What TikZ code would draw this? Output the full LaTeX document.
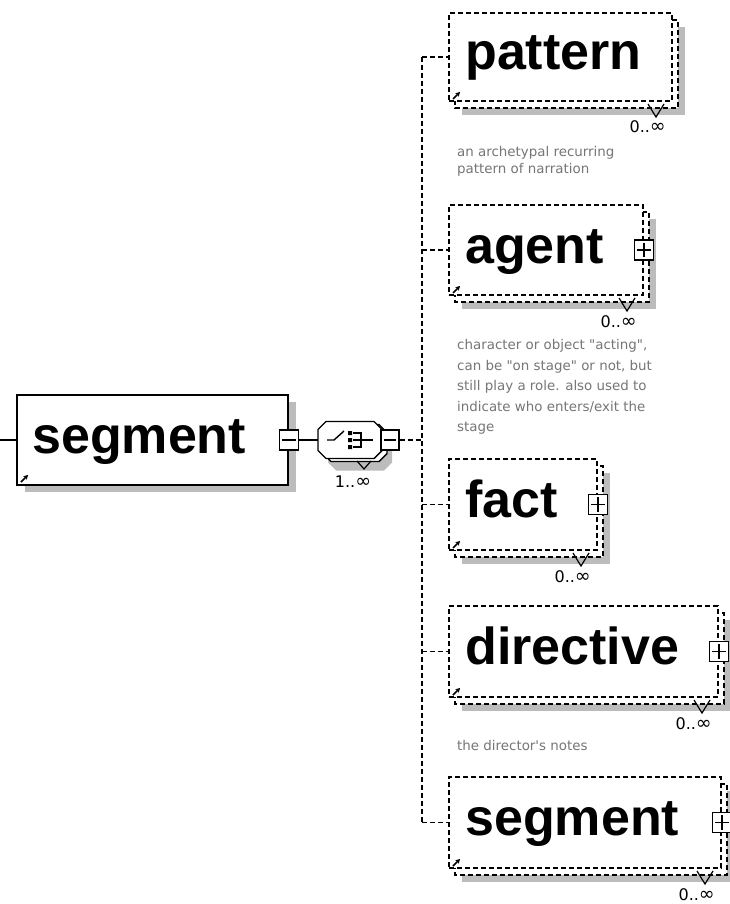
\documentclass[tikz,border=0pt]{standalone}
\usepackage{fontspec}
\setmainfont{DejaVu Sans}
\newfontfamily\headfont{Liberation Sans}
\usetikzlibrary{calc,fit,arrows.meta}

\definecolor{castgray}{RGB}{188,188,188}
\definecolor{notegray}{RGB}{118,118,118}

\tikzset{
  dbox/.style={draw, dash pattern=on 5pt off 3pt, line width=1.8pt, fill=white},
  sbox/.style={draw, line width=1.9pt, fill=white},
  castshadow/.style={fill=castgray},
  biglabel/.style={font=\headfont\bfseries\fontsize{52}{52}\selectfont, inner sep=0pt, anchor=base west},
  note/.style={font=\fontsize{13.4}{13.4}\selectfont, text=notegray, inner sep=0pt, anchor=base west},
  mult/.style={font=\fontsize{16}{16}\selectfont, inner sep=0pt, anchor=base east},
  togglebox/.style={draw, fill=white, line width=1.4pt, minimum width=19pt, minimum height=20pt, inner sep=0pt},
  conn/.style={line width=1.4pt},
  dconn/.style={line width=1.6pt, dash pattern=on 5pt off 3pt},
  refarrow/.style={line width=1.7pt, -{Stealth[length=4.5pt,width=5pt]}},
  iconline/.style={line width=1.4pt},
}

% occurrence range printed under a frame
\newcommand\occ[1]{#1..{\fontsize{19}{16}\selectfont ∞}}

% optional, repeatable child element: shadow, stacked back frame, front frame,
% name, occurrence notch, occurrence range and reference arrow
\newcommand\xsdelement[6]{%
  \fill[castshadow] (#2+13,#3+14) rectangle (#4+13,#5+14);
  \draw[dbox] (#2+6,#3+7) rectangle (#4+6,#5+7);
  \draw[line width=1.2pt] (#4+6-30,#5+3) -- (#4+6-22,#5+16) -- (#4+6-14,#5+3);
  \node[dbox, fit={(#2,#3) (#4,#5)}, inner sep=0pt] (#1) {};
  \node[biglabel] (#1-label) at ($(#1.west)+(17,13)$) {#6};
  \node[mult] (#1-mult) at (#4+6-12,#5+7+25) {\occ{0}};
  \draw[refarrow] (#2+4,#5-2) -- (#2+11,#5-9);
}

% expand box on the right edge of an element
\newcommand\expandbox[1]{%
  \node[togglebox] (#1-plus) at (#1.east) {};
  \draw[line width=1.2pt] ([xshift=3.5pt]#1-plus.west) -- ([xshift=-3.5pt]#1-plus.east)
                        ([yshift=-3.5pt]#1-plus.north) -- ([yshift=3.5pt]#1-plus.south);
}

% outline of the sequence compositor
\def\seqoutline{(326,421.5) -- (374,421.5) -- (382,429.5) -- (382,450.5) -- (374,458.5)
  -- (326,458.5) -- (318,450.5) -- (318,429.5) -- cycle}

\begin{document}
\begin{tikzpicture}[x=1pt,y=-1pt]
\useasboundingbox (0,0) rectangle (729,904);
\fill[white] (0,0) rectangle (729,904);

% ---------- root element ----------
\fill[castshadow] (25,402) rectangle (296,492);
\node[sbox, fit={(17,395) (288,485)}, inner sep=0pt] (root) {};
\node[biglabel] (root-label) at ($(root.west)+(16,13)$) {segment};
\draw[refarrow] (21,482) -- (28,475);
\coordinate (entry) at (0,440);
\draw[conn] (entry) -- (root.west);
\node[togglebox] (root-minus) at (root.east) {};
\draw[line width=1.2pt] ([xshift=3.5pt]root-minus.west) -- ([xshift=-3.5pt]root-minus.east);

% ---------- sequence compositor ----------
\node[minimum width=64pt, minimum height=37pt, inner sep=0pt] (seq) at (350,440) {};
\fill[castshadow, shift={(10,12)}] \seqoutline;
\draw[line width=1.4pt, fill=white, shift={(5,3)}] \seqoutline;
\draw[line width=1.2pt] (357,461) -- (364,469) -- (371,461);
\draw[line width=1.4pt, fill=white] \seqoutline;
\draw[iconline] (327,440) -- (334,440) -- (344,431);
\fill (348,431) rectangle (352,435)
      (348,438) rectangle (352,442)
      (348,445) rectangle (352,449);
\draw[iconline] (353,433) -- (361,433) -- (361,447) -- (353,447)
                (353,440) -- (373,440);
\node[mult, anchor=base] (seq-mult) at (353,487) {\occ{1}};
\draw[conn] (root-minus.east) -- (seq.west);
\node[togglebox, minimum width=18pt] (seq-minus) at (390,440) {};
\draw[line width=1.2pt] ([xshift=3.5pt]seq-minus.west) -- ([xshift=-3.5pt]seq-minus.east);

% ---------- children ----------
\xsdelement{pattern}{449}{13}{672}{101}{pattern}
\xsdelement{agent}{449}{205}{643}{295}{agent}
\expandbox{agent}
\xsdelement{fact}{449}{459}{597}{550}{fact}
\expandbox{fact}
\xsdelement{directive}{449}{606}{718}{697}{directive}
\expandbox{directive}
\xsdelement{segtwo}{449}{777}{721}{868}{segment}
\expandbox{segtwo}

% ---------- connectors ----------
\coordinate (bus) at (422,440);
\draw[dconn] (seq-minus.east) -- (bus);
\draw[dconn] (pattern.west -| bus) -- (segtwo.west -| bus);
\foreach \n in {pattern,agent,fact,directive,segtwo}
  \draw[dconn] (\n.west -| bus) -- (\n.west);

% ---------- annotations ----------
\node[note] (pattern-note1) at (457,157) {an archetypal recurring};
\node[note] (pattern-note2) at (457,174) {pattern of narration};
\node[note] (agent-note1) at (457,349) {character or object \textquotedbl acting\textquotedbl,};
\node[note] (agent-note2) at (457,370) {can be \textquotedbl on stage\textquotedbl{} or not, but};
\node[note] (agent-note3) at (457,390) {still play a role. also used to};
\node[note] (agent-note4) at (457,411) {indicate who enters/exit the};
\node[note] (agent-note5) at (457,431) {stage};
\node[note] (directive-note1) at (457,750) {the director\textquotesingle s notes};
\end{tikzpicture}
\end{document}
